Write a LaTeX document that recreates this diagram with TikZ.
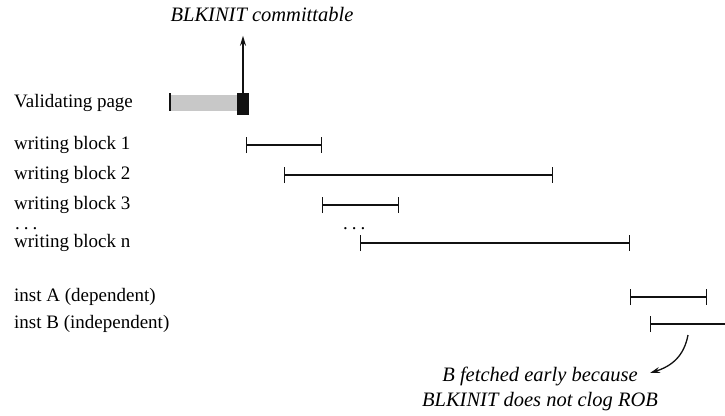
\documentclass[tikz,border=0pt]{standalone}
\usepackage{fontspec}
\setmainfont{Liberation Serif}
\usetikzlibrary{arrows.meta}
\definecolor{Ink}{HTML}{111111}
\definecolor{Shade}{HTML}{C8C8C8}
\tikzset{
  rowlabel/.style={anchor=west, inner sep=0pt, font=\fontsize{19}{22}\selectfont},
  note/.style={inner sep=0pt, align=center, font=\fontsize{20.5}{25}\selectfont\itshape},
  span/.style={{Bar[width=16pt,line width=1.3pt]}-{Bar[width=16pt,line width=1.3pt]},
    line width=1.3pt, draw=Ink},
  pointer/.style={-{Stealth[length=10pt,width=6pt]}, line width=1.3pt, draw=Ink}
}
\newcommand{\spreaddots}{.\hspace{4pt}.\hspace{4pt}.}

\begin{document}
\begin{tikzpicture}[x=1pt,y=-1pt]
  \useasboundingbox (0,0) rectangle (725,415);
  % row labels
  \node[rowlabel] (val) at (14,103) {Validating page};
  \node[rowlabel] (wb1) at (14,145) {writing block 1};
  \node[rowlabel] (wb2) at (14,175) {writing block 2};
  \node[rowlabel] (wb3) at (14,205) {writing block 3};
  \node[rowlabel, anchor=base west] (dotsl) at (15,229) {\spreaddots};
  \node[rowlabel] (wbn) at (14,243) {writing block n};
  \node[rowlabel] (insta) at (14,297) {inst A (dependent)};
  \node[rowlabel] (instb) at (14,324) {inst B (independent)};
  % validating page
  \fill[Shade] (171,95) rectangle (237,111);
  \node[fill=Ink, inner sep=0pt, minimum width=12pt, minimum height=22pt] (commit) at (243,104) {};
  \draw[Ink, line width=1.6pt] (170,93) -- (170,111);
  \node[note] (ct) at (262,14) {BLKINIT committable};
  \draw[pointer] (commit.north) -- ++(0,-57);
  % writing blocks
  \coordinate (b1s) at (246,145); \coordinate (b1e) at (322,145);
  \coordinate (b2s) at (284,175); \coordinate (b2e) at (553,175);
  \coordinate (b3s) at (322,205); \coordinate (b3e) at (399,205);
  \coordinate (bns) at (360,243); \coordinate (bne) at (630,243);
  \draw[span] (b1s) -- (b1e);
  \draw[span] (b2s) -- (b2e);
  \draw[span] (b3s) -- (b3e);
  \node[rowlabel, anchor=base west] (dotsm) at (343,229) {\spreaddots};
  \draw[span] (bns) -- (bne);
  % instructions
  \coordinate (ias) at (630,297); \coordinate (iae) at (707,297);
  \coordinate (ibs) at (650,324); \coordinate (ibe) at (732,324);
  \draw[span] (ias) -- (iae);
  \draw[span] (ibs) -- (ibe);
  % note on B
  \node[note] (why) at (540,389) {B fetched early because\\BLKINIT does not clog ROB};
  \coordinate (from) at (688,335);
  \draw[pointer] (from) .. controls (684,356) and (672,366) .. (650,373);
\end{tikzpicture}
\end{document}
